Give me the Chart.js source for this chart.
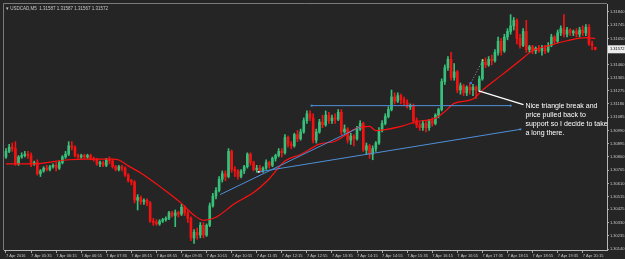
<!DOCTYPE html>
<html>
<head>
<meta charset="utf-8">
<script src="https://cdn.jsdelivr.net/npm/chart.js@4.4.1/dist/chart.umd.min.js"></script>
<style>
    html, body { margin: 0; padding: 0; background: #252525; }
    #wrap { width: 625px; height: 259px; }
</style>
</head>
<body>
<div id="wrap"><canvas id="grafico" width="625" height="259"></canvas></div>
<script>
const symbol = 'USDCAD,M5';

// one label every 8 bars (40 min of M5)
const timeLabels = ['7 Apr 2016', '7 Apr 05:35', '7 Apr 06:15', '7 Apr 06:55', '7 Apr 07:35', '7 Apr 08:15',
    '7 Apr 08:55', '7 Apr 09:35', '7 Apr 10:15', '7 Apr 10:55', '7 Apr 11:35', '7 Apr 12:15', '7 Apr 12:55',
    '7 Apr 13:35', '7 Apr 14:15', '7 Apr 14:55', '7 Apr 15:35', '7 Apr 16:15', '7 Apr 16:55', '7 Apr 17:35',
    '7 Apr 18:15', '7 Apr 18:55', '7 Apr 19:35', '7 Apr 20:15'];
const barsPerLabel = 8;

const priceTicks = [1.30140, 1.30235, 1.30330, 1.30425, 1.30515, 1.30610, 1.30705, 1.30800, 1.30895, 1.30990,
    1.31085, 1.31180, 1.31275, 1.31365, 1.31460, 1.31555, 1.31650, 1.31745, 1.31840];

const open = [
    1.3080, 1.3084, 1.3087, 1.3086, 1.3075, 1.3080, 1.3081, 1.3082, 1.3081, 1.3075,
    1.3076, 1.3068, 1.3070, 1.3072, 1.3071, 1.3073, 1.3074, 1.3072, 1.3076, 1.3080,
    1.3082, 1.3088, 1.3087, 1.3081, 1.3080, 1.3081, 1.3080, 1.3081, 1.3079, 1.3078,
    1.3075, 1.3076, 1.3074, 1.3078, 1.3077, 1.3073, 1.3071, 1.3073, 1.3072, 1.3067,
    1.3063, 1.3062, 1.3049, 1.3051, 1.3048, 1.3049, 1.3047, 1.3034, 1.3033, 1.3032,
    1.3034, 1.3035, 1.3036, 1.3040, 1.3038, 1.3040, 1.3039, 1.3044, 1.3040, 1.3036,
    1.3022, 1.3026, 1.3024, 1.3031, 1.3024, 1.3031, 1.3045, 1.3052, 1.3056, 1.3064,
    1.3068, 1.3066, 1.3084, 1.3071, 1.3070, 1.3066, 1.3070, 1.3073, 1.3082, 1.3076,
    1.3071, 1.3072, 1.3070, 1.3072, 1.3076, 1.3074, 1.3079, 1.3081, 1.3084, 1.3083,
    1.3094, 1.3089, 1.3088, 1.3096, 1.3093, 1.3098, 1.3106, 1.3111, 1.3108, 1.3092,
    1.3098, 1.3105, 1.3103, 1.3110, 1.3106, 1.3108, 1.3107, 1.3112, 1.3098, 1.3100,
    1.3092, 1.3095, 1.3093, 1.3100, 1.3104, 1.3085, 1.3088, 1.3082, 1.3086, 1.3090,
    1.3099, 1.3104, 1.3109, 1.3114, 1.3123, 1.3120, 1.3124, 1.3121, 1.3119, 1.3116,
    1.3117, 1.3106, 1.3103, 1.3101, 1.3104, 1.3101, 1.3106, 1.3104, 1.3110, 1.3114,
    1.3134, 1.3144, 1.3150, 1.3137, 1.3141, 1.3128, 1.3131, 1.3126, 1.3130, 1.3128,
    1.3130, 1.3128, 1.3136, 1.3148, 1.3146, 1.3150, 1.3149, 1.3155, 1.3163, 1.3156,
    1.3166, 1.3170, 1.3174, 1.3178, 1.3165, 1.3160, 1.3170, 1.3157, 1.3159, 1.3156,
    1.3158, 1.3156, 1.3158, 1.3156, 1.3160, 1.3166, 1.3163, 1.3169, 1.3172, 1.3168,
    1.3171, 1.3169, 1.3170, 1.3168, 1.3171, 1.3169, 1.3173, 1.3161, 1.31587
];
const high = [
    1.3086, 1.3089, 1.3090, 1.3091, 1.3081, 1.3083, 1.3084, 1.3084, 1.3083, 1.3077,
    1.3078, 1.3071, 1.3073, 1.3074, 1.3074, 1.3075, 1.3076, 1.3077, 1.3081, 1.3084,
    1.3091, 1.3091, 1.3088, 1.3082, 1.3082, 1.3082, 1.3082, 1.3082, 1.3080, 1.3079,
    1.3077, 1.3077, 1.3079, 1.3080, 1.3078, 1.3074, 1.3074, 1.3074, 1.3073, 1.3068,
    1.3064, 1.3063, 1.3053, 1.3052, 1.3050, 1.3050, 1.3048, 1.3036, 1.3035, 1.3035,
    1.3036, 1.3037, 1.3041, 1.3041, 1.3042, 1.3041, 1.3046, 1.3045, 1.3042, 1.3037,
    1.3028, 1.3029, 1.3033, 1.3033, 1.3032, 1.3047, 1.3054, 1.3058, 1.3066, 1.3070,
    1.3070, 1.3086, 1.3085, 1.3073, 1.3071, 1.3071, 1.3074, 1.3083, 1.3083, 1.3077,
    1.3074, 1.3074, 1.3073, 1.3078, 1.3077, 1.3080, 1.3082, 1.3086, 1.3086, 1.3096,
    1.3095, 1.3091, 1.3097, 1.3099, 1.3100, 1.3108, 1.3113, 1.3113, 1.3111, 1.3100,
    1.3107, 1.3110, 1.3113, 1.3112, 1.3110, 1.3111, 1.3114, 1.3114, 1.3103, 1.3101,
    1.3097, 1.3096, 1.3102, 1.3106, 1.3105, 1.3090, 1.3089, 1.3088, 1.3091, 1.3101,
    1.3106, 1.3111, 1.3116, 1.3128, 1.3126, 1.3126, 1.3125, 1.3123, 1.3121, 1.3118,
    1.3118, 1.3108, 1.3105, 1.3106, 1.3106, 1.3107, 1.3108, 1.3111, 1.3115, 1.3136,
    1.3146, 1.3152, 1.3155, 1.3147, 1.3142, 1.3133, 1.3132, 1.3131, 1.3133, 1.3132,
    1.3131, 1.3138, 1.3150, 1.3151, 1.3152, 1.3153, 1.3157, 1.3166, 1.3165, 1.3168,
    1.3172, 1.3182, 1.3180, 1.3179, 1.3168, 1.3172, 1.3178, 1.3160, 1.3160, 1.3159,
    1.3160, 1.3160, 1.3160, 1.3162, 1.3168, 1.3167, 1.3171, 1.3174, 1.3182, 1.3173,
    1.3172, 1.3171, 1.3172, 1.3173, 1.3174, 1.3175, 1.3175, 1.3163, 1.31587
];
const low = [
    1.3079, 1.3083, 1.3084, 1.3074, 1.3074, 1.3079, 1.3080, 1.3079, 1.3073, 1.3074,
    1.3067, 1.3066, 1.3069, 1.3070, 1.3070, 1.3072, 1.3070, 1.3071, 1.3075, 1.3079,
    1.3081, 1.3085, 1.3080, 1.3079, 1.3079, 1.3079, 1.3079, 1.3078, 1.3077, 1.3074,
    1.3073, 1.3073, 1.3073, 1.3075, 1.3072, 1.3070, 1.3070, 1.3070, 1.3066, 1.3062,
    1.3060, 1.3047, 1.3042, 1.3046, 1.3046, 1.3045, 1.3033, 1.3031, 1.3031, 1.3031,
    1.3033, 1.3034, 1.3035, 1.3037, 1.3030, 1.3037, 1.3038, 1.3038, 1.3033, 1.3020,
    1.3018, 1.3021, 1.3022, 1.3022, 1.3023, 1.3030, 1.3044, 1.3050, 1.3055, 1.3062,
    1.3063, 1.3065, 1.3069, 1.3066, 1.3064, 1.3065, 1.3068, 1.3072, 1.3074, 1.3070,
    1.3069, 1.3069, 1.3069, 1.3071, 1.3072, 1.3073, 1.3077, 1.3080, 1.3080, 1.3082,
    1.3087, 1.3086, 1.3087, 1.3091, 1.3092, 1.3097, 1.3104, 1.3106, 1.3090, 1.3090,
    1.3097, 1.3101, 1.3102, 1.3104, 1.3104, 1.3104, 1.3106, 1.3096, 1.3097, 1.3090,
    1.3089, 1.3088, 1.3092, 1.3099, 1.3084, 1.3082, 1.3079, 1.3078, 1.3084, 1.3089,
    1.3098, 1.3103, 1.3108, 1.3113, 1.3118, 1.3119, 1.3118, 1.3117, 1.3115, 1.3114,
    1.3104, 1.3101, 1.3099, 1.3099, 1.3098, 1.3099, 1.3102, 1.3103, 1.3108, 1.3113,
    1.3132, 1.3142, 1.3135, 1.3135, 1.3126, 1.3125, 1.3124, 1.3124, 1.3125, 1.3124,
    1.3122, 1.3127, 1.3135, 1.3144, 1.3145, 1.3146, 1.3148, 1.3153, 1.3153, 1.3155,
    1.3164, 1.3168, 1.3171, 1.3161, 1.3158, 1.3159, 1.3155, 1.3155, 1.3154, 1.3154,
    1.3155, 1.3153, 1.3154, 1.3155, 1.3159, 1.3161, 1.3162, 1.3167, 1.3166, 1.3166,
    1.3167, 1.3167, 1.3166, 1.3166, 1.3167, 1.3167, 1.3160, 1.3157, 1.31567
];
const close = [
    1.3084, 1.3087, 1.3086, 1.3075, 1.3080, 1.3081, 1.3082, 1.3081, 1.3075, 1.3076,
    1.3068, 1.3070, 1.3072, 1.3071, 1.3073, 1.3074, 1.3072, 1.3076, 1.3080, 1.3082,
    1.3088, 1.3087, 1.3081, 1.3080, 1.3081, 1.3080, 1.3081, 1.3079, 1.3078, 1.3075,
    1.3076, 1.3074, 1.3078, 1.3077, 1.3073, 1.3071, 1.3073, 1.3072, 1.3067, 1.3063,
    1.3062, 1.3049, 1.3051, 1.3048, 1.3049, 1.3047, 1.3034, 1.3033, 1.3032, 1.3034,
    1.3035, 1.3036, 1.3040, 1.3038, 1.3040, 1.3039, 1.3044, 1.3040, 1.3036, 1.3022,
    1.3026, 1.3024, 1.3031, 1.3024, 1.3031, 1.3045, 1.3052, 1.3056, 1.3064, 1.3068,
    1.3066, 1.3084, 1.3071, 1.3070, 1.3066, 1.3070, 1.3073, 1.3082, 1.3076, 1.3071,
    1.3072, 1.3070, 1.3072, 1.3076, 1.3074, 1.3079, 1.3081, 1.3084, 1.3083, 1.3094,
    1.3089, 1.3088, 1.3096, 1.3093, 1.3098, 1.3106, 1.3111, 1.3108, 1.3092, 1.3098,
    1.3105, 1.3103, 1.3110, 1.3106, 1.3108, 1.3107, 1.3112, 1.3098, 1.3100, 1.3092,
    1.3095, 1.3093, 1.3100, 1.3104, 1.3085, 1.3088, 1.3082, 1.3086, 1.3090, 1.3099,
    1.3104, 1.3109, 1.3114, 1.3123, 1.3120, 1.3124, 1.3121, 1.3119, 1.3116, 1.3117,
    1.3106, 1.3103, 1.3101, 1.3104, 1.3101, 1.3106, 1.3104, 1.3110, 1.3114, 1.3134,
    1.3144, 1.3150, 1.3137, 1.3141, 1.3128, 1.3131, 1.3126, 1.3130, 1.3128, 1.3130,
    1.3128, 1.3136, 1.3148, 1.3146, 1.3150, 1.3149, 1.3155, 1.3163, 1.3156, 1.3166,
    1.3170, 1.3174, 1.3178, 1.3165, 1.3160, 1.3170, 1.3157, 1.3159, 1.3156, 1.3158,
    1.3156, 1.3158, 1.3156, 1.3160, 1.3166, 1.3163, 1.3169, 1.3172, 1.3168, 1.3171,
    1.3169, 1.3170, 1.3168, 1.3171, 1.3169, 1.3173, 1.3161, 1.3160, 1.31572
];

// moving average, read at a few bars and joined by the line
const maBars = [0, 9, 13, 20, 25, 34, 36, 39, 43, 50, 56, 60, 63, 67, 73, 79, 84, 89, 94, 100, 105,
    112, 116, 118, 126, 131, 137, 140, 143, 149, 152, 158, 164, 168, 173, 179, 185, 188];
const maValues = [1.30750, 1.30750, 1.30760, 1.30780, 1.30785, 1.30785, 1.30778, 1.30736, 1.30685, 1.30573,
    1.30467, 1.30382, 1.30346, 1.30368, 1.30467, 1.30545, 1.30644, 1.30771, 1.30818, 1.30892, 1.30913,
    1.31007, 1.31019, 1.30989, 1.31019, 1.31054, 1.31078, 1.31125, 1.31184, 1.31215, 1.31279, 1.31385,
    1.31491, 1.31562, 1.31597, 1.31633, 1.31656, 1.31649];

// drawn objects: [bar, price] pairs
const steepLine = [[68.3, 1.30530], [113.3, 1.31019]];
const lowerLine = [[80.6, 1.30693], [164.1, 1.30998]];
const flatLine = [[97.5, 1.31168], [161, 1.31168]];
const noteLine = [[150.8, 1.31274], [165.1, 1.31175]];
const dotLine = [[148.3, 1.31330], [152.1, 1.31493]];
const noteText = ['Nice triangle break and', 'price pulled back to', 'support so I decide to take', 'a long there.'];

const upColor = '#36c07a';
const downColor = '#f21212';
const blue = '#4f8fd8';
const axisFont = { family: 'Liberation Sans', size: 4 };
const last = close.length - 1;

function colorBar(i) {
    return close[i] >= open[i] ? upColor : downColor;
}

function toPoints(pairs) {
    return pairs.map(p => ({ x: p[0], y: p[1] }));
}

const bars = close.map((_, i) => i);

const decor = {
    id: 'decor',
    beforeDraw(chart) {
        const ctx = chart.ctx;
        ctx.save();
        ctx.fillStyle = '#252525';
        ctx.fillRect(0, 0, chart.width, chart.height);
        ctx.restore();
    },
    afterDraw(chart) {
        const { ctx, chartArea, scales } = chart;
        ctx.save();
        // frame
        ctx.strokeStyle = '#7a7a7a';
        ctx.lineWidth = 1;
        ctx.beginPath();
        ctx.moveTo(chartArea.left - 0.5, chartArea.bottom);
        ctx.lineTo(chartArea.left - 0.5, chartArea.top - 0.5);
        ctx.lineTo(chartArea.right, chartArea.top - 0.5);
        ctx.stroke();

        // title
        ctx.fillStyle = '#c8c8c8';
        ctx.font = '4.5px "Liberation Sans"';
        ctx.textBaseline = 'middle';
        const ohlc = [open[last], high[last], low[last], close[last]].map(v => v.toFixed(5)).join(' ');
        ctx.fillText('\u25BE ' + symbol + '  ' + ohlc, chartArea.left + 2, chartArea.top + 5);

        // last price box
        const yLast = scales.y.getPixelForValue(close[last]);
        ctx.fillStyle = '#ececec';
        ctx.fillRect(chartArea.right + 1, yLast - 4, 18, 8);
        ctx.fillStyle = '#000000';
        ctx.font = '4px "Liberation Sans"';
        ctx.fillText(close[last].toFixed(5), chartArea.right + 3, yLast);

        // note text next to the end of the white line
        const end = chart.getDatasetMeta(6).data[1];
        ctx.fillStyle = '#ffffff';
        ctx.font = '7px "Liberation Sans"';
        noteText.forEach((t, k) => ctx.fillText(t, end.x + 2, end.y + 1 + k * 9.3));
        ctx.restore();
    }
};

new Chart(document.getElementById('grafico'), {
    type: 'bar',
    data: {
        datasets: [{
            label: 'wicks',
            data: bars.map(i => ({ x: i, y: [low[i], high[i]] })),
            backgroundColor: c => colorBar(c.dataIndex),
            barThickness: 1,
            grouped: false,
            order: 6
        }, {
            label: 'bodies',
            data: bars.map(i => ({ x: i, y: [open[i], close[i]] })),
            backgroundColor: c => colorBar(c.dataIndex),
            barThickness: 2,
            minBarLength: 1,
            grouped: false,
            order: 5
        }, {
            type: 'line',
            label: 'MA',
            data: maBars.map((b, k) => ({ x: b, y: maValues[k] })),
            borderColor: '#ff1010',
            borderWidth: 1.2,
            pointRadius: 0,
            cubicInterpolationMode: 'monotone',
            order: 4
        }, {
            type: 'line',
            data: toPoints(steepLine),
            borderColor: blue,
            borderWidth: 1,
            pointRadius: 0,
            order: 3
        }, {
            type: 'line',
            data: toPoints(lowerLine),
            borderColor: blue,
            borderWidth: 1,
            pointStyle: 'rect',
            pointRadius: 1.3,
            pointBackgroundColor: ['#d8e6f5', blue],
            pointBorderWidth: 0,
            order: 3
        }, {
            type: 'line',
            data: toPoints(flatLine),
            borderColor: blue,
            borderWidth: 1,
            pointStyle: 'rect',
            pointRadius: 1.3,
            pointBackgroundColor: blue,
            pointBorderWidth: 0,
            order: 3
        }, {
            type: 'line',
            data: toPoints(noteLine),
            borderColor: '#ffffff',
            borderWidth: 1.3,
            pointRadius: 0,
            order: 1
        }, {
            type: 'line',
            data: toPoints(dotLine),
            borderColor: '#9a9a9a',
            borderWidth: 1,
            borderDash: [1, 2],
            pointStyle: 'rect',
            pointRadius: [1.6, 1.1],
            pointBackgroundColor: ['#3d6ee8', '#e8cf4a'],
            pointBorderWidth: 0,
            order: 2
        }]
    },
    options: {
        responsive: false,
        animation: false,
        devicePixelRatio: 1,
        layout: { padding: { left: 1, top: 1, right: 0, bottom: 0 } },
        plugins: { legend: { display: false }, tooltip: { enabled: false } },
        scales: {
            x: {
                type: 'linear',
                min: -0.635,
                max: 191.75,
                offset: false,
                afterBuildTicks: s => { s.ticks = timeLabels.map((_, k) => ({ value: k * barsPerLabel })); },
                afterFit: s => { s.height = 9; },
                grid: { offset: false, drawOnChartArea: false, drawTicks: true, tickLength: 3, color: '#a8a8a8' },
                border: { color: '#b8b8b8' },
                ticks: {
                    autoSkip: false,
                    maxRotation: 0,
                    align: 'start',
                    padding: 0,
                    color: '#c8c8c8',
                    font: axisFont,
                    callback: v => timeLabels[v / barsPerLabel]
                }
            },
            y: {
                position: 'right',
                min: 1.301329,
                max: 1.318967,
                afterBuildTicks: s => { s.ticks = priceTicks.map(v => ({ value: v })); },
                afterFit: s => { s.width = 18; },
                grid: { drawOnChartArea: false, drawTicks: true, tickLength: 2, color: '#a8a8a8' },
                border: { color: '#b8b8b8' },
                ticks: {
                    padding: 1,
                    color: '#c8c8c8',
                    font: axisFont,
                    callback: v => v.toFixed(5)
                }
            }
        }
    },
    plugins: [decor]
});
</script>
</body>
</html>
